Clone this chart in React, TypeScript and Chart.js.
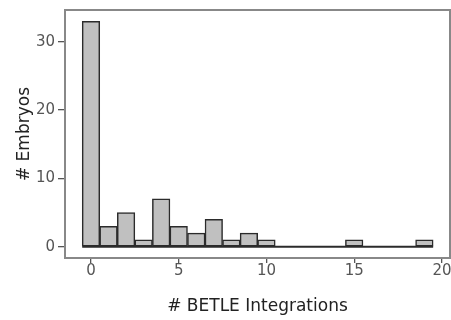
import React, { useEffect, useRef } from "react";
import { Chart, registerables } from "chart.js";

Chart.register(...registerables);

const bins = [0, 1, 2, 3, 4, 5, 6, 7, 8, 9, 10, 11, 12, 13, 14, 15, 16, 17, 18, 19];
const counts = [33, 3, 5, 1, 7, 3, 2, 4, 1, 2, 1, 0, 0, 0, 0, 1, 0, 0, 0, 1];
const xTicks = [0, 5, 10, 15, 20];
const yTicks = [0, 10, 20, 30];
const xTitle = "# BETLE Integrations";
const yTitle = "# Embryos";

const boxPlugin = {
  id: "boxPlugin",
  afterDraw(chart: any) {
    const { ctx, chartArea } = chart;
    ctx.save();
    ctx.strokeStyle = "#888888";
    ctx.lineWidth = 2;
    ctx.strokeRect(chartArea.left, chartArea.top, chartArea.right - chartArea.left, chartArea.bottom - chartArea.top);
    ctx.restore();
  },
};

export default function App() {
  const ref = useRef<HTMLCanvasElement>(null);
  useEffect(() => {
    document.body.style.margin = "0";
    const barData = bins.map((b, i) => ({ x: b, y: counts[i] }));
    const baseline = [
      { x: bins[0] - 0.5, y: 0 },
      { x: bins[bins.length - 1] + 0.5, y: 0 },
    ];
    const chart = new Chart(ref.current!, {
      type: "bar",
      data: {
        datasets: [
          {
            type: "bar",
            data: barData as any,
            backgroundColor: "#c0c0c0",
            borderColor: "#2b2b2b",
            borderWidth: 1.5,
            borderSkipped: false,
            barPercentage: 1,
            categoryPercentage: 1,
            order: 2,
          } as any,
          {
            type: "line",
            data: baseline as any,
            borderColor: "#2b2b2b",
            borderWidth: 2,
            pointRadius: 0,
            fill: false,
            order: 1,
          } as any,
        ],
      },
      options: {
        animation: false,
        responsive: true,
        maintainAspectRatio: false,
        layout: { padding: { top: 10, right: 1, left: 0, bottom: 0 } },
        plugins: { legend: { display: false }, tooltip: { enabled: false } },
        scales: {
          x: {
            type: "linear",
            offset: false,
            min: -1.48,
            max: 20.46,
            afterBuildTicks: (s: any) => {
              s.ticks = xTicks.map((v) => ({ value: v }));
            },
            afterFit: (s: any) => {
              s.height = 62;
              s.paddingLeft = 0;
              s.paddingRight = 0;
            },
            grid: { offset: false, drawOnChartArea: false, drawTicks: true, tickLength: 5, color: "#555555", lineWidth: 1.3 },
            border: { display: false },
            ticks: {
              autoSkip: false,
              maxRotation: 0,
              padding: 1,
              color: "#555555",
              font: { family: "DejaVu Sans", size: 15, lineHeight: 1 },
            },
            title: {
              display: true,
              text: xTitle,
              color: "#222222",
              font: { family: "DejaVu Sans", size: 17 },
              padding: { top: 0, bottom: 3 },
            },
          },
          y: {
            type: "linear",
            min: -1.65,
            max: 34.64,
            afterBuildTicks: (s: any) => {
              s.ticks = yTicks.map((v) => ({ value: v }));
            },
            afterFit: (s: any) => {
              s.width = 65;
              s.paddingTop = 0;
              s.paddingBottom = 0;
            },
            grid: { drawOnChartArea: false, drawTicks: true, tickLength: 7, color: "#555555", lineWidth: 1.3 },
            border: { display: false },
            ticks: {
              autoSkip: false,
              padding: 3,
              color: "#555555",
              font: { family: "DejaVu Sans", size: 15, lineHeight: 1 },
            },
            title: {
              display: true,
              text: yTitle,
              color: "#222222",
              font: { family: "DejaVu Sans", size: 17 },
              padding: { top: 14, bottom: 0 },
            },
          },
        },
      },
      plugins: [boxPlugin],
    });
    return () => chart.destroy();
  }, []);
  return (
    <div style={{ position: "fixed", left: 0, top: 0, width: 451, height: 320 }}>
      <canvas ref={ref} />
    </div>
  );
}
